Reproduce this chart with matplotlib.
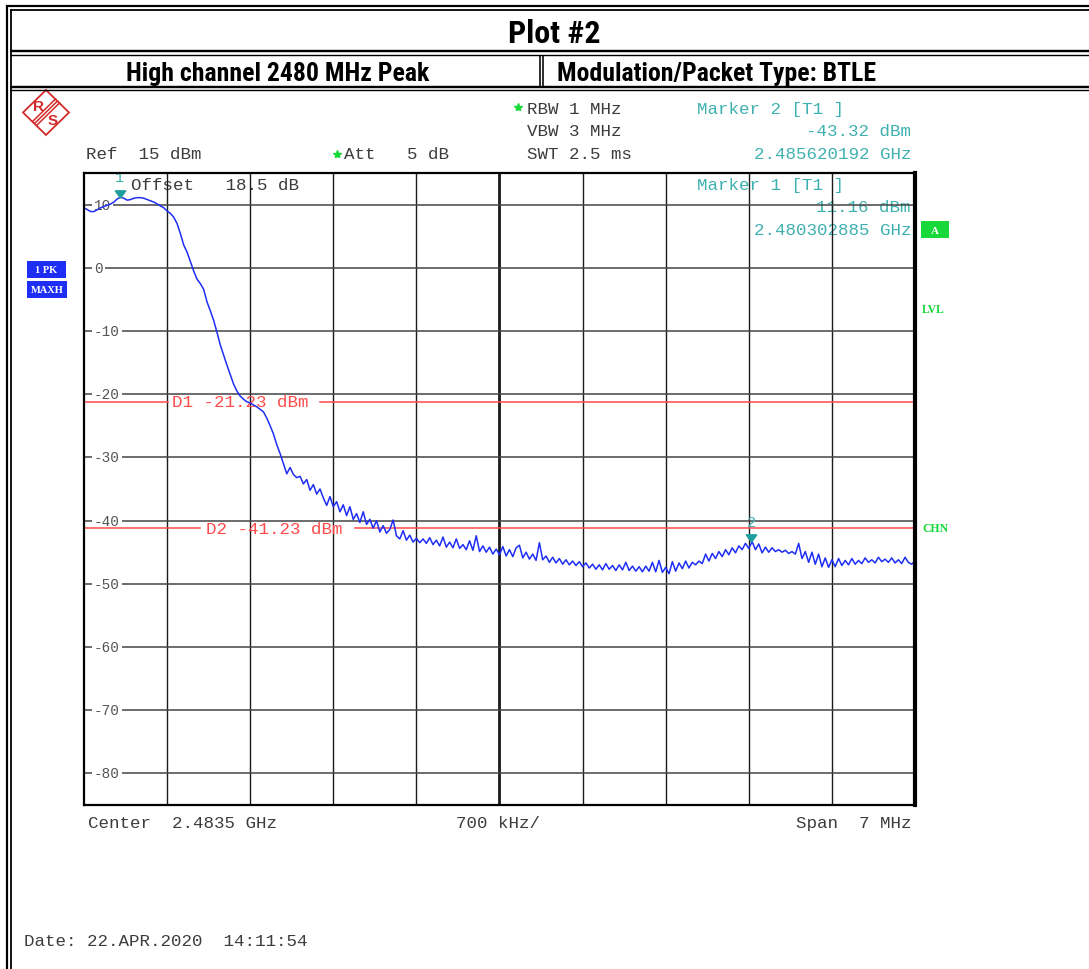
import numpy as np
import matplotlib
matplotlib.use('Agg')
import matplotlib.pyplot as plt
from matplotlib.transforms import Affine2D, blended_transform_factory, offset_copy
from matplotlib.lines import Line2D
from matplotlib.patches import Rectangle, Polygon

W, H = 1089, 970

# ---------------- data ----------------
center_ghz = 2.4835
span_mhz = 7.0
ref_level_dbm = 15
bottom_level_dbm = -85
y_tick_values = [10, 0, -10, -20, -30, -40, -50, -60, -70, -80]

trace_dbm = [
    9.5, 9.2, 8.9, 8.9, 9.2, 9.5, 9.7, 9.9, 10.1, 10.4,
    10.9, 11.16, 11.0, 10.7, 10.8, 11.0, 11.1, 11.1, 11.0, 10.8,
    10.6, 10.4, 10.1, 9.8, 9.5, 9.0, 8.6, 8.0, 7.0, 5.4,
    3.6, 2.5, 1.0, -0.5, -1.8, -2.5, -3.4, -5.4, -6.8, -8.3,
    -10.2, -12.2, -13.8, -15.4, -16.9, -18.4, -19.5, -20.3, -20.8, -21.2,
    -21.4, -21.7, -22.0, -22.4, -22.8, -23.8, -25.0, -26.3, -28.0, -29.4,
    -31.0, -32.6, -31.6, -32.7, -33.2, -33.0, -34.2, -33.5, -35.2, -34.3,
    -35.8, -35.0, -36.4, -37.6, -36.2, -37.8, -37.0, -38.6, -37.5, -39.2,
    -37.8, -39.8, -38.9, -40.3, -38.6, -40.6, -39.8, -41.2, -40.0, -41.8,
    -40.8, -42.0, -41.4, -39.9, -42.4, -42.9, -41.6, -43.1, -42.3, -43.4,
    -42.8, -43.5, -42.9, -43.6, -42.7, -43.8, -43.1, -44.0, -42.6, -44.2,
    -43.4, -44.3, -42.9, -44.4, -43.8, -44.6, -43.2, -44.7, -42.4, -44.9,
    -44.0, -45.0, -44.2, -45.3, -44.5, -45.4, -44.1, -45.6, -44.6, -45.7,
    -44.3, -43.9, -45.9, -45.0, -46.1, -45.3, -46.3, -43.5, -46.2, -45.6,
    -46.6, -45.8, -46.7, -46.0, -46.9, -46.2, -47.0, -46.4, -47.1, -46.5,
    -47.3, -46.7, -47.5, -46.9, -47.7, -47.0, -47.8, -46.8, -47.7, -47.1,
    -47.9, -47.0, -47.8, -46.6, -47.9, -47.2, -48.0, -47.3, -48.1, -47.2,
    -48.0, -46.6, -48.1, -46.3, -48.2, -47.4, -48.4, -46.5, -48.0, -46.7,
    -47.6, -46.4, -47.5, -46.6, -47.0, -46.4, -46.8, -45.3, -46.4, -45.2,
    -46.0, -44.9, -45.7, -44.6, -45.4, -44.3, -45.1, -44.0, -44.6, -43.6,
    -44.4, -43.32, -44.6, -43.7, -45.1, -44.2, -45.0, -44.3, -44.9, -44.6,
    -45.0, -44.7, -45.2, -44.9, -45.3, -43.6, -46.0, -44.9, -46.6, -45.0,
    -46.9, -45.3, -47.3, -45.9, -47.4, -46.2, -47.3, -46.0, -47.1, -46.3,
    -47.0, -46.0, -46.9, -46.3, -46.8, -45.9, -46.6, -46.2, -46.7, -45.8,
    -46.5, -46.1, -46.6, -45.9, -46.7, -46.2, -46.8, -45.8, -46.6, -46.9,
    -46.4,
]

marker_names = ['1', '2']
marker_freq_ghz = [2.480302885, 2.485620192]
marker_dbm = [11.16, -43.32]

dline_names = ['D1', 'D2']
dline_dbm = [-21.23, -41.23]

# ---------------- layout / style ----------------
MONO = 'Liberation Mono'
NARROW = ['Roboto Condensed', 'PT Sans Narrow', 'Liberation Sans']
GRAY = '#3c3c3c'
TEAL = '#3fb0b0'
RED = '#ff4a4a'
BLUE = '#1e2ef5'
GREEN = '#18d83a'

fig = plt.figure(figsize=(W / 100, H / 100), dpi=100)
pix = Affine2D().scale(1 / W, -1 / H).translate(0, 1) + fig.transFigure


def hline(y, x0, x1, lw, color='black'):
    fig.add_artist(Line2D([x0, x1], [y, y], transform=pix, color=color,
                          lw=lw * 0.72, solid_capstyle='butt'))


def vline(x, y0, y1, lw, color='black'):
    fig.add_artist(Line2D([x, x], [y0, y1], transform=pix, color=color,
                          lw=lw * 0.72, solid_capstyle='butt'))


# outer frame / header boxes
hline(7, 6, W, 2.2)
vline(7, 6, H, 2.2)
hline(10.5, 10, W, 1.8)
vline(10.5, 10, H, 1.8)
hline(52, 10, W, 2.4)
hline(55.5, 10, W, 1.4)
hline(88, 10, W, 2.4)
hline(91, 10, W, 1.4)
vline(539.5, 55.5, 88, 1.6)
vline(542.5, 55.5, 88, 1.6)

fig.text(554 / W, 1 - 43 / H, 'Plot #2', family=NARROW, weight='bold',
         fontsize=23, ha='center', va='baseline')
fig.text(278 / W, 1 - 81 / H, 'High channel 2480 MHz Peak', family=NARROW,
         weight='bold', fontsize=18.5, ha='center', va='baseline')
fig.text(716 / W, 1 - 81 / H, 'Modulation/Packet Type: BTLE', family=NARROW,
         weight='bold', fontsize=18.5, ha='center', va='baseline')

# R&S logo
logo_red = '#d42a2a'
fig.add_artist(Polygon([(46, 91), (69, 113.5), (46, 136), (23, 113.5)],
                       closed=True, fill=False, ec=logo_red, lw=1.3,
                       transform=pix))
for d in (-2.0, 0, 2.0):
    fig.add_artist(Line2D([34.5 + d, 57.5 + d], [124.5 + d, 102 + d],
                          transform=pix, color=logo_red, lw=1.1))
fig.text(39 / W, 1 - 107 / H, 'R', color=logo_red, fontsize=11,
         weight='bold', family='Liberation Sans', ha='center', va='center')
fig.text(53 / W, 1 - 121 / H, 'S', color=logo_red, fontsize=11,
         weight='bold', family='Liberation Sans', ha='center', va='center')

# ---------------- axes ----------------
ax = fig.add_axes([84 / W, 1 - 806 / H, 831 / W, 632 / H])
f_start = center_ghz - span_mhz / 2000
f_stop = center_ghz + span_mhz / 2000
ax.set_xlim(f_start, f_stop)
ax.set_ylim(bottom_level_dbm, ref_level_dbm)
ax.set_xticks([])
ax.set_yticks([])
for side in ('left', 'top', 'bottom'):
    ax.spines[side].set_linewidth(1.6)
ax.spines['right'].set_linewidth(3.0)
for sp in ax.spines.values():
    sp.set_zorder(8)

freqs = np.linspace(f_start, f_stop, len(trace_dbm))
div = span_mhz / 10 / 1000
for k in range(1, 10):
    ax.axvline(f_start + k * div, color='#1a1a1a',
               lw=2.0 if k == 5 else 1.0, zorder=1)
for v in y_tick_values:
    ax.axhline(v, color='#444444', lw=1.1, zorder=1)

bt = blended_transform_factory(pix, ax.transData)
for v in y_tick_values:
    ax.text(94, v, f'{v}', transform=bt, ha='left', va='center',
            family=MONO, fontsize=10.4, color='#555555', zorder=2,
            clip_on=False,
            bbox=dict(boxstyle='square,pad=0.15', fc='white', ec='none'))

# display lines with label gaps
d_label_x = [172, 206]
d_gap = [(168, 320), (200, 355)]
bt_base = offset_copy(bt, fig=fig, x=0, y=-4.5, units='dots')
for name, lvl, lx, (g0, g1) in zip(dline_names, dline_dbm, d_label_x, d_gap):
    ax.add_line(Line2D([84, g0], [lvl, lvl], transform=bt, color=RED,
                       lw=1.1, zorder=3))
    ax.add_line(Line2D([g1, 915], [lvl, lvl], transform=bt, color=RED,
                       lw=1.1, zorder=3))
    ax.text(lx, lvl, f'{name} {lvl:.2f} dBm', transform=bt_base,
            ha='left', va='baseline', family=MONO, fontsize=12.6,
            color=RED, zorder=3)

# trace
ax.plot(freqs, trace_dbm, color=BLUE, lw=1.1, zorder=5)

# markers
tri = [(0, -0.7), (-1, 0.7), (1, 0.7), (0, -0.7)]
ax.plot(marker_freq_ghz, marker_dbm, ls='none', marker=tri, ms=7.5,
        color='#1f9e9e', zorder=6,
        transform=offset_copy(ax.transData, fig=fig, x=0, y=3.6, units='dots'))
for name, f, l in zip(marker_names, marker_freq_ghz, marker_dbm):
    ax.text(f, l, name, ha='center', va='baseline', family=MONO,
            fontsize=11, color=TEAL, zorder=6, clip_on=False,
            transform=offset_copy(ax.transData, fig=fig, x=0, y=16,
                                  units='dots'))


def mono(x, y, s, color=GRAY, ha='left', size=12.6):
    ax.text(x, y, s, transform=pix, ha=ha, va='baseline', family=MONO,
            fontsize=size, color=color, zorder=0.5, clip_on=False)


# header texts
mono(86, 159, 'Ref  15 dBm')
mono(344, 159, 'Att   5 dB')
mono(527, 114, 'RBW 1 MHz')
mono(527, 136.5, 'VBW 3 MHz')
mono(527, 159, 'SWT 2.5 ms')
mono(131, 190.5, 'Offset   18.5 dB')
for (x, y) in [(518, 108), (337, 155)]:
    fig.add_artist(Line2D([x], [y], transform=pix, marker='*', ms=6,
                          color=GREEN, ls='none'))

mono(697, 114, f'Marker {marker_names[1]} [T1 ]', TEAL)
mono(911, 136.5, f'{marker_dbm[1]:.2f} dBm', TEAL, ha='right')
mono(911, 159, f'{marker_freq_ghz[1]:.9f} GHz', TEAL, ha='right')
mono(697, 190, f'Marker {marker_names[0]} [T1 ]', TEAL)
mono(911, 212.5, f'{marker_dbm[0]:.2f} dBm', TEAL, ha='right')
mono(911, 235, f'{marker_freq_ghz[0]:.9f} GHz', TEAL, ha='right')

mono(88, 828, f'Center  {center_ghz} GHz')
mono(456, 828, '700 kHz/')
mono(911, 828, f'Span  {span_mhz:g} MHz', ha='right')
mono(24, 946, 'Date: 22.APR.2020  14:11:54')

# side annotations
fig.add_artist(Rectangle((921, 222), 28, 17, transform=pix, fc=GREEN,
                         ec='none'))
fig.text(935 / W, 1 - 231 / H, 'A', color='white', weight='bold',
         family='Liberation Serif', fontsize=8, ha='center', va='center')
fig.text(922 / W, 1 - 310 / H, 'LVL', color=GREEN, weight='bold',
         family='Liberation Serif', fontsize=8.5, ha='left', va='center')
fig.text(922 / W, 1 - 529 / H, 'CHN', color=GREEN, weight='bold',
         family='Liberation Serif', fontsize=8.5, ha='left', va='center')

fig.add_artist(Rectangle((27, 262), 39, 17, transform=pix, fc=BLUE,
                         ec='none'))
fig.text(46.5 / W, 1 - 270.5 / H, '1 PK', color='white', weight='bold',
         family='Liberation Serif', fontsize=7.5, ha='center', va='center')
fig.add_artist(Rectangle((27, 282), 40, 17, transform=pix, fc=BLUE,
                         ec='none'))
fig.text(47 / W, 1 - 290.5 / H, 'MAXH', color='white', weight='bold',
         family='Liberation Serif', fontsize=7.5, ha='center', va='center')

fig.savefig('out.png', dpi=100)
